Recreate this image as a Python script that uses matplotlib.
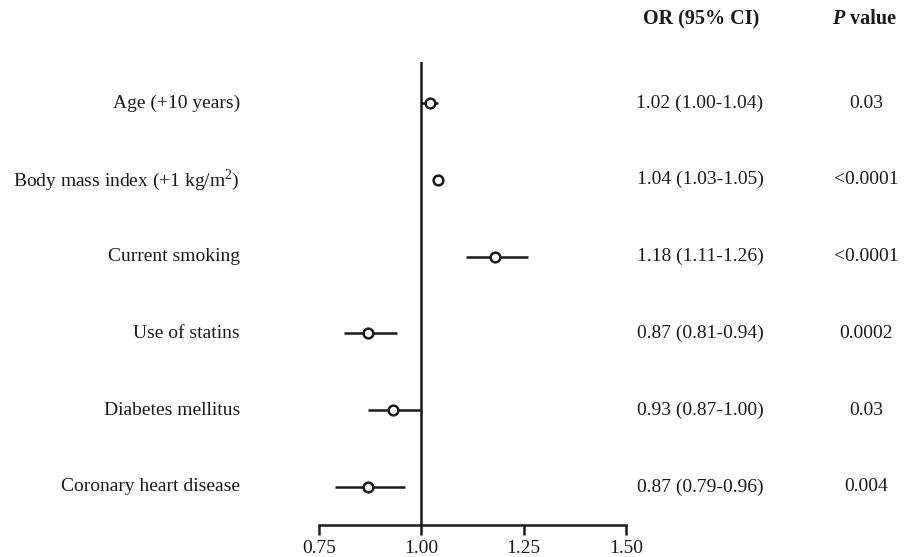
import numpy as np
import matplotlib
matplotlib.use("Agg")
from matplotlib import pyplot as plt

plt.rcParams['font.family'] = ['Liberation Serif', 'DejaVu Serif']
plt.rcParams['mathtext.fontset'] = 'custom'
plt.rcParams['mathtext.rm'] = 'Liberation Serif'

labels = ['Age (+10 years)', 'Body mass index (+1 kg/m$^2$)', 'Current smoking',
          'Use of statins', 'Diabetes mellitus', 'Coronary heart disease']
odds = [1.02, 1.04, 1.18, 0.87, 0.93, 0.87]
lower = [1.00, 1.03, 1.11, 0.81, 0.87, 0.79]
upper = [1.04, 1.05, 1.26, 0.94, 1.00, 0.96]
pvals = ['0.03', '<0.0001', '<0.0001', '0.0002', '0.03', '0.004']
xticks = [0.75, 1.00, 1.25, 1.50]

col = '#1a1a1a'
fs = 14
fig = plt.figure(figsize=(9.15, 5.57), dpi=100)
ax = fig.add_axes([0.3486, 0.0575, 0.3356, 0.8312])

y = np.arange(len(labels))
ax.axvline(1.0, color=col, lw=1.8, zorder=1)
ax.hlines(y, lower, upper, color=col, lw=1.8, zorder=2)
ax.plot(odds, y, 'o', mfc='white', mec=col, mew=1.8, ms=7, zorder=3)

ax.set_xlim(0.75, 1.50)
ax.set_ylim(5.495, -0.534)
ax.set_xticks(xticks)
ax.set_xticklabels(['%.2f' % t for t in xticks], fontsize=fs, color=col)
ax.set_yticks([])
for s in ['top', 'right', 'left']:
    ax.spines[s].set_visible(False)
ax.spines['bottom'].set_linewidth(1.8)
ax.spines['bottom'].set_color(col)
ax.spines['bottom'].set_bounds(0.75, 1.50)
ax.tick_params(axis='x', length=7, width=1.8, color=col, pad=4)

# row labels and table columns
trans = ax.get_yaxis_transform()
for i in range(len(labels)):
    ax.text(-0.257, y[i], labels[i], transform=trans,
            ha='right', va='center', fontsize=fs, color=col)
    ax.text(1.241, y[i], '%.2f (%.2f-%.2f)' % (odds[i], lower[i], upper[i]),
            transform=trans, ha='center', va='center', fontsize=fs, color=col)
    ax.text(1.782, y[i], pvals[i], transform=trans, ha='center', va='center',
            fontsize=fs, color=col)

hy = 1 - 19 / 557
fig.text(701 / 915, hy, 'OR (95% CI)', ha='center', va='center',
         fontsize=14.5, fontweight='bold', color=col)
fig.text(844 / 915, hy, 'P', ha='right', va='center', fontsize=14.5,
         fontweight='bold', fontstyle='italic', color=col)
fig.text(850 / 915, hy, 'value', ha='left', va='center', fontsize=14.5,
         fontweight='bold', color=col)

fig.savefig('out.png', dpi=100)
